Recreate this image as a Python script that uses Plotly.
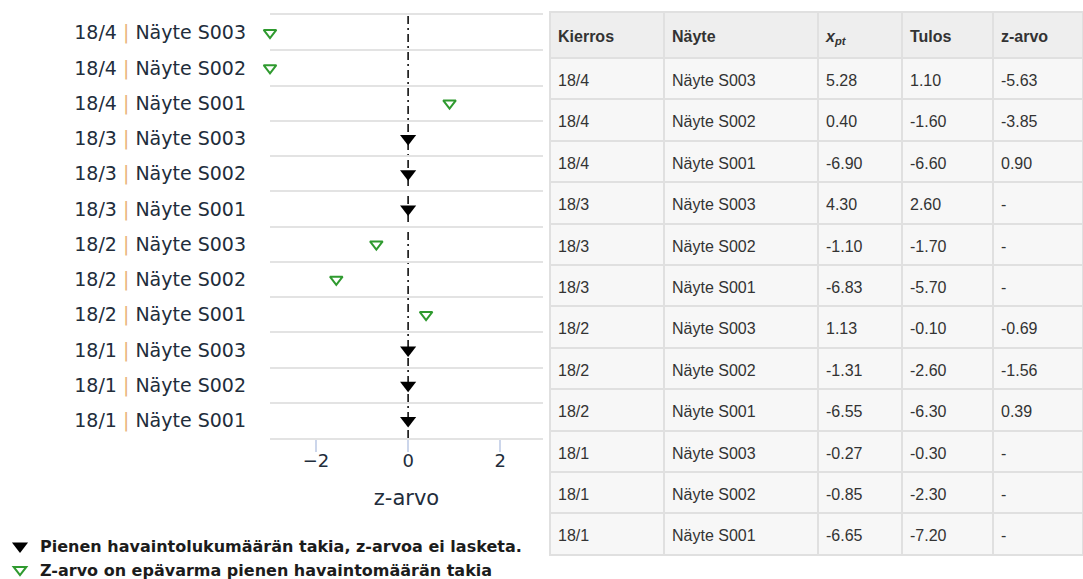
import numpy as np
import plotly.graph_objects as go

# Kierrokset ja näytteet (ylhäältä alas)
kierros = ["18/4", "18/4", "18/4", "18/3", "18/3", "18/3",
           "18/2", "18/2", "18/2", "18/1", "18/1", "18/1"]
naytteet = ["Näyte S003", "Näyte S002", "Näyte S001"] * 4
xpt = [5.28, 0.40, -6.90, 4.30, -1.10, -6.83, 1.13, -1.31, -6.55, -0.27, -0.85, -6.65]
tulos = [1.10, -1.60, -6.60, 2.60, -1.70, -5.70, -0.10, -2.60, -6.30, -0.30, -2.30, -7.20]
z_arvo = [-5.63, -3.85, 0.90, None, None, None, -0.69, -1.56, 0.39, None, None, None]

x_ticks = [-2, 0, 2]
z_min, z_max = -3.0, 2.93

ei_laskettu_nimi = "Pienen havaintolukumäärän takia, z-arvoa ei lasketa."
epavarma_nimi = "Z-arvo on epävarma pienen havaintomäärän takia"

LABEL_FONT = "DejaVu Sans"
TEXT_COL = "#222d3b"
TABLE_FONT = dict(family="Liberation Sans", size=16, color="#333333")

rivit = [f"{k} | {n}" for k, n in zip(kierros, naytteet)]
rivi_tekstit = [f"{k} <span style='color:#e9b47a'>|</span> {n}" for k, n in zip(kierros, naytteet)]

# z-arvot joita ei laskettu piirretään nollakohtaan, muut kuvaajan rajoihin
ei_y = [r for r, z in zip(rivit, z_arvo) if z is None]
ei_x = [0.0 for z in z_arvo if z is None]
ep_y = [r for r, z in zip(rivit, z_arvo) if z is not None]
ep_x = list(np.clip([z for z in z_arvo if z is not None], z_min, z_max))

fig = go.Figure()

fig.add_trace(go.Scatter(
    x=ei_x, y=ei_y, mode="markers", name=ei_laskettu_nimi,
    marker=dict(symbol="triangle-down", size=14, color="#000000", line=dict(width=0)),
    cliponaxis=False,
))
fig.add_trace(go.Scatter(
    x=ep_x, y=ep_y, mode="markers", name=epavarma_nimi,
    marker=dict(symbol="triangle-down-open", size=11, color="#2f9a2f",
                line=dict(width=2, color="#2f9a2f")),
    cliponaxis=False,
))

# Nollaviiva
fig.add_shape(type="line", xref="x", yref="y domain", x0=0, x1=0, y0=0, y1=1,
              line=dict(color="#000000", width=1.5, dash="8px,4px,2px,4px"), layer="below")

# Taulukko: ruudukko ja tekstit omina kerroksinaan, jotta teksti asettuu rivin keskelle
fmt = lambda v: "-" if v is None else f"{v:.2f}"
otsikot = ["<b>Kierros</b>", "<b>Näyte</b>", "<b><i>x<sub>pt</sub></i></b>",
           "<b>Tulos</b>", "<b>z-arvo</b>"]
sarakkeet = [kierros, naytteet, [fmt(v) for v in xpt], [fmt(v) for v in tulos],
             [fmt(v) for v in z_arvo]]
leveydet = [114, 154, 84, 91, 90]
taulu_x = [550 / 1083, 1.0]
taulu_yla = 12
tekstin_siirto = 8

fig.add_trace(go.Table(
    domain=dict(x=taulu_x, y=[0.0, 1 - taulu_yla / 579]),
    columnwidth=leveydet,
    header=dict(values=[""] * len(otsikot), fill_color="#eeeeee",
                line=dict(color="#e0e0e0", width=2), height=46, font=TABLE_FONT),
    cells=dict(values=[[""] * len(c) for c in sarakkeet], fill_color="#f7f7f7",
               line=dict(color="#e0e0e0", width=2), height=41.4, font=TABLE_FONT),
))
fig.add_trace(go.Table(
    domain=dict(x=taulu_x, y=[0.0, 1 - (taulu_yla + tekstin_siirto) / 579]),
    columnwidth=leveydet,
    header=dict(values=otsikot, fill_color="rgba(0,0,0,0)",
                line=dict(color="rgba(0,0,0,0)", width=0),
                align="left", height=46, font=TABLE_FONT),
    cells=dict(values=sarakkeet, fill_color="rgba(0,0,0,0)",
               line=dict(color="rgba(0,0,0,0)", width=0),
               align="left", height=41.4, font=TABLE_FONT),
))

fig.update_layout(
    width=1083, height=579,
    margin=dict(l=0, r=0, t=0, b=0, autoexpand=False),
    paper_bgcolor="#ffffff", plot_bgcolor="#ffffff",
    showlegend=True,
    legend=dict(
        x=0, y=1 - 529 / 579, xanchor="left", yanchor="top",
        bgcolor="rgba(0,0,0,0)", borderwidth=0, tracegroupgap=0,
        font=dict(family=LABEL_FONT, size=16, color="#1c1c1c", weight="bold"),
    ),
    xaxis=dict(
        domain=[270 / 1083, 543 / 1083], range=[z_min, z_max],
        tickvals=x_ticks, ticktext=[f"{v}".replace("-", "\u2212") for v in x_ticks],
        ticks="outside", ticklen=12, tickcolor="#ccd6eb", tickwidth=1.5,
        ticklabelstandoff=-7,
        showgrid=False, zeroline=False,
        showline=True, linecolor="#e3e3e3", linewidth=2, mirror=True,
        tickfont=dict(family=LABEL_FONT, size=18, color=TEXT_COL),
        title=dict(text="z-arvo", standoff=21,
                   font=dict(family=LABEL_FONT, size=21, color=TEXT_COL)),
        automargin=False, fixedrange=True,
    ),
    yaxis=dict(
        domain=[1 - 438 / 579, 1 - 15 / 579],
        type="category", categoryorder="array", categoryarray=rivit[::-1],
        range=[-0.5, len(rivit) - 0.5],
        tickvals=rivit, ticktext=rivi_tekstit,
        tickson="boundaries", ticks="", showgrid=True,
        gridcolor="#e3e3e3", gridwidth=2,
        showline=False, zeroline=False,
        ticklabelstandoff=23,
        tickfont=dict(family=LABEL_FONT, size=19, color=TEXT_COL),
        automargin=False, fixedrange=True,
    ),
)

fig.write_html("out.html")
